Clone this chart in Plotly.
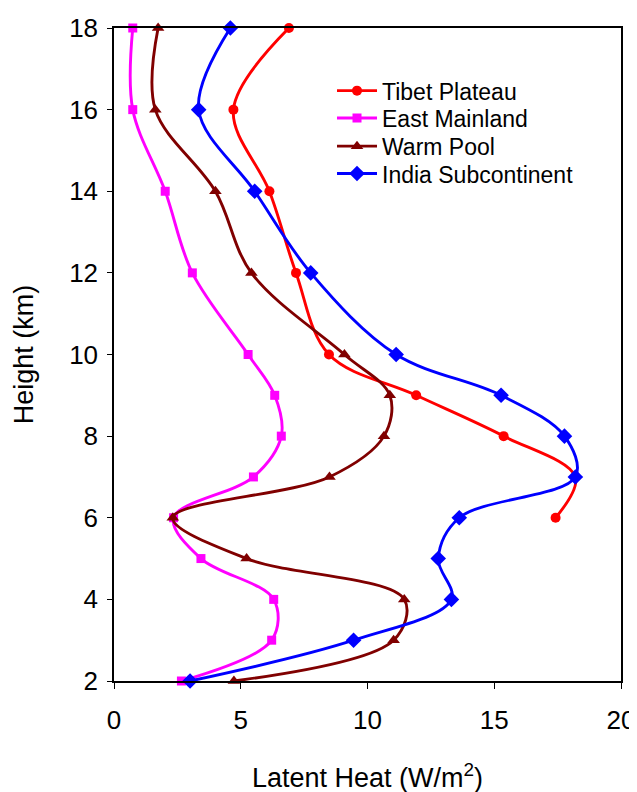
import plotly.graph_objects as go

heights = [18, 16, 14, 12, 10, 9, 8, 7, 6, 5, 4, 3, 2]

tibet_h = [18, 16, 14, 12, 10, 9, 8, 7, 6]
tibet = [6.9, 4.71, 6.13, 7.18, 8.48, 11.92, 15.37, 18.2, 17.42]

east = [0.74, 0.74, 2.02, 3.09, 5.29, 6.34, 6.6, 5.5, 2.35, 3.43, 6.3, 6.22, 2.66]
warm = [1.74, 1.63, 4.0, 5.42, 9.09, 10.88, 10.65, 8.5, 2.32, 5.23, 11.45, 11.03, 4.73]
india = [4.59, 3.34, 5.55, 7.76, 11.13, 15.27, 17.77, 18.2, 13.62, 12.79, 13.31, 9.45, 3.0]

x_ticks = [0, 5, 10, 15, 20]
y_ticks = [2, 4, 6, 8, 10, 12, 14, 16, 18]

series = [
    ("Tibet Plateau", tibet, tibet_h, "#FF0000", "circle", 10),
    ("East Mainland", east, heights, "#FF00FF", "square", 9),
    ("Warm Pool", warm, heights, "#800000", "triangle-up", 11),
    ("India Subcontinent", india, heights, "#0000FF", "diamond", 12),
]

legend_ids = ["legend", "legend2", "legend3", "legend4"]
legend_rows = [0.904, 0.862, 0.819, 0.777]

font = "Arial, Liberation Sans, sans-serif"

fig = go.Figure()
for (name, xs, ys, col, sym, sz), lid in zip(series, legend_ids):
    fig.add_trace(go.Scatter(
        x=xs, y=ys, name=name, mode="lines+markers",
        line=dict(color=col, width=2.9, shape="spline", smoothing=1.0),
        marker=dict(color=col, symbol=sym, size=sz),
        cliponaxis=False, legend=lid,
    ))

legend_layout = {}
for lid, ry in zip(legend_ids, legend_rows):
    legend_layout[lid] = dict(x=0.43, y=ry, xanchor="left", yanchor="middle",
                              font=dict(size=23, family=font),
                              bgcolor="rgba(0,0,0,0)", itemwidth=40)

# page has an 8px body margin; margins are offset to place the plot area
fig.update_layout(
    width=637, height=792,
    margin=dict(l=106, r=24, t=20, b=119),
    paper_bgcolor="white", plot_bgcolor="white",
    font=dict(family=font, size=26, color="black"),
    showlegend=True,
    xaxis=dict(range=[0, 20], tickvals=x_ticks, showgrid=False, zeroline=False,
               showline=True, linecolor="black", linewidth=1.5, mirror=True,
               ticks="outside", ticklen=6, tickcolor="black", automargin=False,
               tickfont=dict(size=26), ticklabelstandoff=9,
               title=dict(text="Latent Heat (W/m<sup>2</sup>)", font=dict(size=27), standoff=34)),
    yaxis=dict(range=[2, 18], tickvals=y_ticks, showgrid=False, zeroline=False,
               showline=True, linecolor="black", linewidth=1.5, mirror=True,
               ticks="outside", ticklen=5, tickcolor="black", automargin=False,
               tickfont=dict(size=26), ticklabelstandoff=4,
               title=dict(text="Height (km)", font=dict(size=27), standoff=28)),
    **legend_layout,
)

fig.write_html("out.html")
